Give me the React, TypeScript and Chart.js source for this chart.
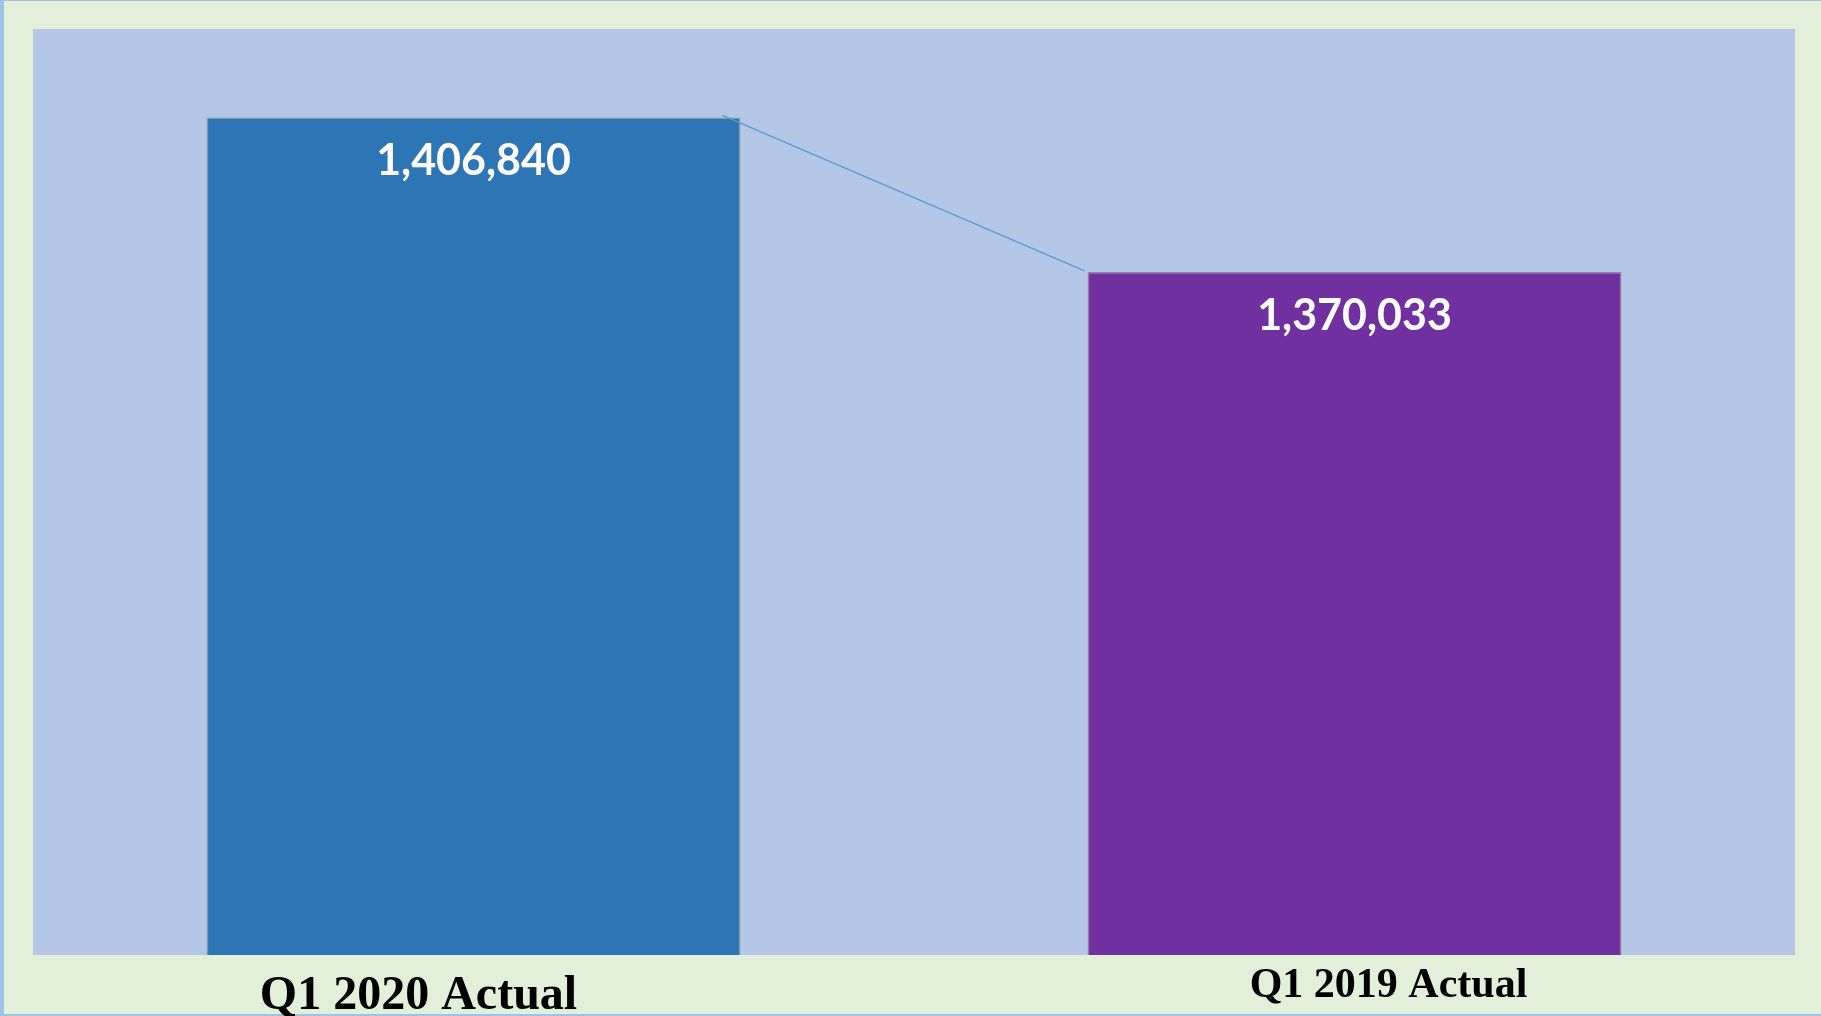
import React, { useEffect, useRef } from "react";
import { Chart, registerables } from "chart.js";

Chart.register(...registerables);

const categories: string[] = ["Q1 2020 Actual", "Q1 2019 Actual"];
const values: number[] = [1406840, 1370033];
const valueLabels: string[] = ["1,406,840", "1,370,033"];
const barColors: string[] = ["#2E75B6", "#7030A0"];
const barBorders: string[] = ["#7f9aa0", "#a27a9c"];
const yMin = 1207300;
const yMax = 1427900;

const W = 1821;
const H = 1016;

const decorPlugin = {
  id: "decor",
  beforeDraw(chart: any) {
    const { ctx, chartArea } = chart;
    ctx.save();
    ctx.fillStyle = "#9DC3E6";
    ctx.fillRect(0, 0, W, H);
    ctx.fillStyle = "#E2EFD9";
    ctx.fillRect(4, 1, W - 4, H - 3);
    ctx.fillStyle = "#B4C7E7";
    ctx.fillRect(chartArea.left, chartArea.top, chartArea.right - chartArea.left, chartArea.bottom - chartArea.top);
    ctx.restore();
  },
  afterDatasetsDraw(chart: any) {
    const { ctx } = chart;
    const meta = chart.getDatasetMeta(0);
    const b0 = meta.data[0];
    const b1 = meta.data[1];
    ctx.save();
    // connector line
    ctx.strokeStyle = "#5B9BD5";
    ctx.lineWidth = 1.5;
    ctx.beginPath();
    ctx.moveTo(b0.x + b0.width / 2 - 18, b0.y - 2);
    ctx.lineTo(b1.x - b1.width / 2 - 3, b1.y - 1);
    ctx.stroke();
    // value labels
    ctx.fillStyle = "#ffffff";
    ctx.font = "bold 43px Lato, 'Open Sans', sans-serif";
    ctx.textAlign = "center";
    ctx.textBaseline = "middle";
    meta.data.forEach((bar: any, i: number) => {
      ctx.fillText(valueLabels[i], bar.x, bar.y + 44);
    });
    // category labels
    const xs = chart.scales.x;
    ctx.fillStyle = "#000000";
    ctx.textBaseline = "alphabetic";
    const offs = [-55, 34];
    const sizes = [48, 42];
    const bases = [1009, 997];
    categories.forEach((c, i) => {
      ctx.font = `bold ${sizes[i]}px 'Liberation Serif', 'Times New Roman', serif`;
      ctx.fillText(c, xs.getPixelForValue(i) + offs[i], bases[i]);
    });
    ctx.restore();
  },
};

export default function App() {
  const ref = useRef<HTMLCanvasElement | null>(null);
  useEffect(() => {
    document.body.style.margin = "0";
    const canvas = ref.current;
    if (!canvas) return;
    const chart = new Chart(canvas, {
      type: "bar",
      data: {
        labels: categories,
        datasets: [
          {
            data: values,
            backgroundColor: barColors,
            borderColor: barBorders,
            borderWidth: 1.5,
            barPercentage: 1,
            categoryPercentage: 0.606,
          },
        ],
      },
      options: {
        animation: false,
        responsive: false,
        layout: { padding: { left: 33, top: 29, right: 26, bottom: 61 } },
        plugins: { legend: { display: false }, tooltip: { enabled: false } },
        scales: {
          x: { display: false },
          y: { display: false, min: yMin, max: yMax },
        },
      },
      plugins: [decorPlugin],
    });
    return () => chart.destroy();
  }, []);
  return (
    <div style={{ width: W, height: H }}>
      <canvas ref={ref} width={W} height={H} style={{ display: "block" }} />
    </div>
  );
}
